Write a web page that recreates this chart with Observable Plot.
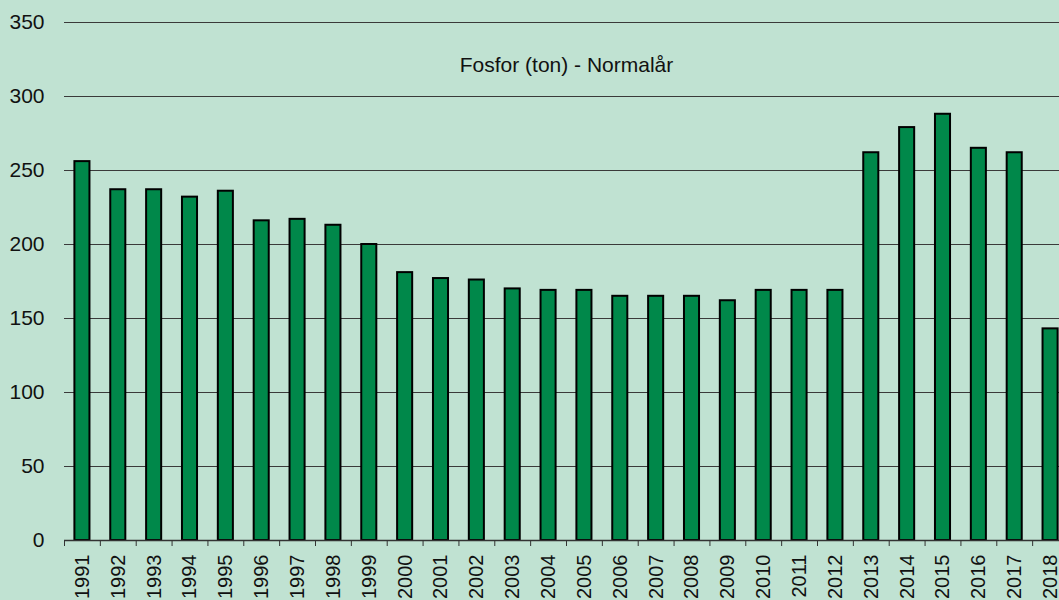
<!DOCTYPE html>
<html>
<head>
<meta charset="utf-8">
<script src="https://cdn.jsdelivr.net/npm/d3@7"></script>
<script src="https://cdn.jsdelivr.net/npm/@observablehq/plot@0.6"></script>
<style>
  html, body { margin: 0; padding: 0; background: #C0E2D2; overflow: hidden; }
  #chart { width: 1059px; height: 600px; overflow: hidden; }
</style>
</head>
<body>
<div id="chart"></div>
<script>
const years = [1991,1992,1993,1994,1995,1996,1997,1998,1999,2000,2001,2002,2003,2004,2005,2006,2007,2008,2009,2010,2011,2012,2013,2014,2015,2016,2017,2018];
const values = [256,237,237,232,236,216,217,213,200,181,177,176,170,169,169,165,165,165,162,169,169,169,262,279,288,265,262,143];
const yTicks = [0,50,100,150,200,250,300,350];
const title = "Fosfor (ton) - Normalår";

const data = years.map((y, i) => ({year: String(y), value: values[i]}));

const W = 1059, H = 600;
const left = 64, right = 1068;
const bw = (right - left) / years.length;

const chart = Plot.plot({
  width: W,
  height: H,
  marginLeft: left,
  marginRight: W - right,
  marginTop: 22,
  marginBottom: 60,
  style: {background: "#C0E2D2", fontFamily: "'Liberation Sans', Arial, sans-serif", fontSize: "21px", overflow: "hidden"},
  x: {type: "band", domain: years.map(String), range: [left, right], paddingInner: 0.58, paddingOuter: 0.29, align: 0.5, round: false},
  y: {domain: [0, 350], range: [540, 22]},
  marks: [
    Plot.gridY(yTicks, {stroke: "#3a3a3a", strokeOpacity: 1, strokeWidth: 1}),
    Plot.axisY(yTicks, {tickSize: 0, tickPadding: 20, fontSize: 21, fill: "#111", label: null}),
    Plot.barY(data, {x: "year", y: "value", fill: "#00884A", stroke: "#000", strokeWidth: 2}),
    Plot.ruleY([0], {stroke: "#333", strokeWidth: 1.5}),
    Plot.axisX({tickSize: 6, tickFormat: () => "", dx: -bw / 2, stroke: "#333", label: null}),
    Plot.axisX({tickSize: 0, tickRotate: -90, tickPadding: 14, fontSize: 20, fill: "#111", label: null}),
    Plot.text([title], {frameAnchor: "top", dy: 35, fontSize: 21, fill: "#111"})
  ]
});
document.getElementById("chart").appendChild(chart);
</script>
</body>
</html>
